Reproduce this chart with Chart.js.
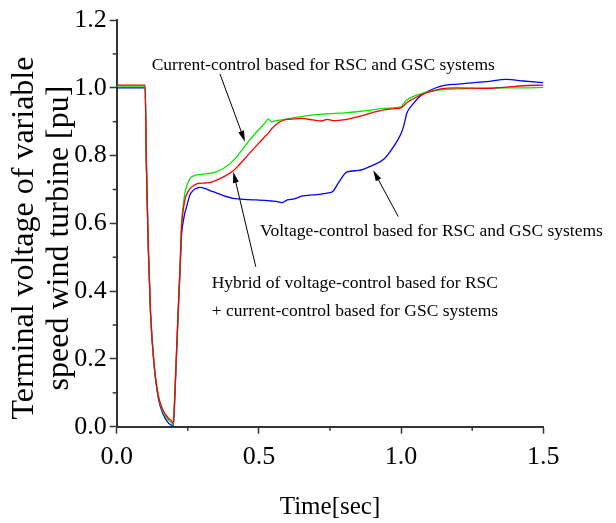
<!DOCTYPE html>
<html>
<head>
<meta charset="utf-8">
<script src="https://cdn.jsdelivr.net/npm/chart.js@4.4.1/dist/chart.umd.min.js"></script>
<style>
    html, body { margin: 0; padding: 0; background: #fff; }
    #wrap { width: 616px; height: 523px; position: relative; }
</style>
</head>
<body>
<div id="wrap"><canvas id="voltage-graph"></canvas></div>
<script>
// Time axis shared by the three traces [sec].
const timeSec = [
    0, 0.1, 0.104, 0.111, 0.119, 0.131, 0.146, 0.164, 0.18, 0.193, 0.199,
    0.205, 0.211, 0.217, 0.223, 0.228, 0.235, 0.24, 0.246, 0.258, 0.27, 0.28, 0.293,
    0.31, 0.33, 0.35, 0.375, 0.41, 0.43, 0.46, 0.49, 0.52, 0.533, 0.545, 0.56, 0.58,
    0.6, 0.625, 0.65, 0.69, 0.72, 0.74, 0.76, 0.78, 0.81, 0.85, 0.9, 0.94, 0.97,
    1.0, 1.01, 1.02, 1.04, 1.06, 1.08, 1.1, 1.14, 1.2, 1.3, 1.37, 1.43, 1.5,
];

// Hybrid: voltage-control RSC + current-control GSC (red).
const hybridVolts = [
    1.008, 1.008, 0.787, 0.531, 0.335, 0.19, 0.094, 0.047, 0.027, 0.017, 0.01,
    0.11, 0.236, 0.36, 0.475, 0.59, 0.645, 0.67, 0.685, 0.703, 0.711, 0.716, 0.718,
    0.719, 0.721, 0.727, 0.737, 0.755, 0.772, 0.8, 0.828, 0.855, 0.866, 0.879, 0.891, 0.902,
    0.907, 0.908, 0.91, 0.905, 0.902, 0.907, 0.903, 0.904, 0.907, 0.915, 0.927, 0.935, 0.938,
    0.941, 0.948, 0.956, 0.966, 0.975, 0.982, 0.988, 0.997, 1.0, 0.998, 1.002, 1.006, 1.008,
];

// Current-control based for RSC and GSC (green).
const currentVolts = [
    1.005, 1.005, 0.787, 0.531, 0.335, 0.188, 0.09, 0.042, 0.022, 0.012, 0.005,
    0.11, 0.236, 0.36, 0.48, 0.6, 0.66, 0.69, 0.71, 0.733, 0.74, 0.743, 0.744,
    0.746, 0.748, 0.752, 0.762, 0.785, 0.805, 0.838, 0.868, 0.895, 0.908, 0.9, 0.903, 0.905,
    0.908, 0.912, 0.915, 0.92, 0.922, 0.923, 0.924, 0.925, 0.927, 0.93, 0.935, 0.939, 0.941,
    0.944, 0.955, 0.964, 0.973, 0.98, 0.985, 0.989, 0.994, 0.997, 0.999, 1.0, 1.0, 1.001,
];

// Voltage-control based for RSC and GSC (blue).
const voltageVolts = [
    1.0, 1.0, 0.787, 0.531, 0.335, 0.185, 0.085, 0.035, 0.013, 0.004, 0.0,
    0.1, 0.225, 0.35, 0.465, 0.565, 0.61, 0.632, 0.65, 0.685, 0.698, 0.703, 0.706,
    0.703, 0.696, 0.69, 0.682, 0.674, 0.672, 0.67, 0.669, 0.668, 0.667, 0.666, 0.665, 0.661,
    0.669, 0.672, 0.68, 0.684, 0.686, 0.689, 0.694, 0.72, 0.752, 0.756, 0.771, 0.79, 0.822,
    0.865, 0.89, 0.925, 0.95, 0.97, 0.983, 0.992, 1.005, 1.011, 1.018, 1.025, 1.02, 1.015,
];

const xMinorTicks = [0.25, 0.75, 1.25];
const yMinorTicks = [0.1, 0.3, 0.5, 0.7, 0.9, 1.1];

const SERIF = '"Liberation Serif", "Times New Roman", serif';
const AXIS_COLOR = '#333';

// Labels with arrows: text anchor and arrow in data units.
const annotations = [
    {
        lines: ['Current-control based for RSC and GSC systems'],
        at: [0.123, 1.067],
        arrow: [[0.363, 1.041], [0.451, 0.841]],
    },
    {
        lines: ['Voltage-control based for RSC and GSC systems'],
        at: [0.504, 0.575],
        arrow: [[0.99, 0.62], [0.902, 0.757]],
    },
    {
        lines: ['Hybrid of voltage-control based for RSC', '+ current-control based for GSC systems'],
        at: [0.334, 0.423],
        arrow: [[0.489, 0.472], [0.41, 0.752]],
    },
];

function toPoints(ys) {
    return timeSec.map((t, i) => ({ x: t, y: ys[i] }));
}

function draw_arrow(ctx, x1, y1, x2, y2) {
    const ang = Math.atan2(y2 - y1, x2 - x1);
    const len = 11, half = 3;
    ctx.beginPath();
    ctx.moveTo(x1, y1);
    ctx.lineTo(x2 - Math.cos(ang) * len * 0.8, y2 - Math.sin(ang) * len * 0.8);
    ctx.stroke();
    ctx.beginPath();
    ctx.moveTo(x2, y2);
    ctx.lineTo(x2 - Math.cos(ang) * len - Math.sin(ang) * half, y2 - Math.sin(ang) * len + Math.cos(ang) * half);
    ctx.lineTo(x2 - Math.cos(ang) * len + Math.sin(ang) * half, y2 - Math.sin(ang) * len - Math.cos(ang) * half);
    ctx.closePath();
    ctx.fill();
}

// Short minor ticks between the labelled ones.
const minorTicksPlugin = {
    id: 'minorTicks',
    afterDraw(chart) {
        const { ctx, scales: { x, y } } = chart;
        ctx.save();
        ctx.strokeStyle = AXIS_COLOR;
        ctx.lineWidth = 1.5;
        xMinorTicks.forEach(v => {
            const px = x.getPixelForValue(v);
            ctx.beginPath();
            ctx.moveTo(px, x.top);
            ctx.lineTo(px, x.top + 4);
            ctx.stroke();
        });
        yMinorTicks.forEach(v => {
            const py = y.getPixelForValue(v);
            ctx.beginPath();
            ctx.moveTo(y.right, py);
            ctx.lineTo(y.right - 4, py);
            ctx.stroke();
        });
        ctx.restore();
    }
};

// Two line y axis title and the arrow labels.
const textPlugin = {
    id: 'texts',
    afterDraw(chart) {
        const { ctx, scales: { x, y } } = chart;
        ctx.save();
        ctx.fillStyle = '#000';
        ctx.strokeStyle = '#000';
        ctx.lineWidth = 1;

        ctx.font = `32px ${SERIF}`;
        ctx.textAlign = 'center';
        ctx.textBaseline = 'middle';
        ctx.translate(0, 238);
        ctx.rotate(-Math.PI / 2);
        ctx.fillText('Terminal voltage of variable', 0, 25);
        ctx.fillText('speed wind turbine [pu]', 0, 60);
        ctx.setTransform(1, 0, 0, 1, 0, 0);
        ctx.scale(chart.currentDevicePixelRatio, chart.currentDevicePixelRatio);

        ctx.font = `17.5px ${SERIF}`;
        ctx.textAlign = 'left';
        annotations.forEach(a => {
            const px = x.getPixelForValue(a.at[0]);
            const py = y.getPixelForValue(a.at[1]);
            a.lines.forEach((line, i) => ctx.fillText(line, px, py + i * 28.4));
            draw_arrow(ctx,
                x.getPixelForValue(a.arrow[0][0]), y.getPixelForValue(a.arrow[0][1]),
                x.getPixelForValue(a.arrow[1][0]), y.getPixelForValue(a.arrow[1][1]));
        });
        ctx.restore();
    }
};

new Chart(document.getElementById('voltage-graph'), {
    type: 'scatter',
    data: {
        datasets: [
            {
                label: 'Hybrid of voltage-control based for RSC + current-control based for GSC systems',
                data: toPoints(hybridVolts),
                borderColor: '#ff0000',
            },
            {
                label: 'Current-control based for RSC and GSC systems',
                data: toPoints(currentVolts),
                borderColor: '#00e600',
            },
            {
                label: 'Voltage-control based for RSC and GSC systems',
                data: toPoints(voltageVolts),
                borderColor: '#0000ff',
            },
        ].map(d => Object.assign(d, {
            showLine: true,
            pointRadius: 0,
            borderWidth: 1.3,
            cubicInterpolationMode: 'monotone',
            fill: false,
        })),
    },
    options: {
        responsive: true,
        maintainAspectRatio: false,
        animation: false,
        layout: { padding: { top: 20, right: 72.7, left: 0, bottom: 0 } },
        plugins: {
            legend: { display: false },
            tooltip: { enabled: false },
        },
        scales: {
            x: {
                type: 'linear',
                min: 0,
                max: 1.5,
                border: { color: AXIS_COLOR, width: 2 },
                grid: { drawOnChartArea: false, tickLength: 7, color: AXIS_COLOR, tickWidth: 1.5 },
                ticks: {
                    stepSize: 0.5,
                    padding: 8,
                    color: '#000',
                    font: { family: SERIF, size: 26 },
                    callback: v => v.toFixed(1),
                },
                title: {
                    display: true,
                    text: 'Time[sec]',
                    color: '#000',
                    font: { family: SERIF, size: 25 },
                    padding: { top: 0, bottom: 1 },
                },
                afterFit: scale => { scale.height = 96.3; },
            },
            y: {
                min: 0,
                max: 1.2,
                border: { color: AXIS_COLOR, width: 2 },
                grid: { drawOnChartArea: false, tickLength: 7, color: AXIS_COLOR, tickWidth: 1.5 },
                ticks: {
                    stepSize: 0.2,
                    padding: 3,
                    color: '#000',
                    font: { family: SERIF, size: 26 },
                    callback: v => v.toFixed(1),
                },
                afterFit: scale => { scale.width = 116.7; },
            },
        },
    },
    plugins: [minorTicksPlugin, textPlugin],
});
</script>
</body>
</html>
